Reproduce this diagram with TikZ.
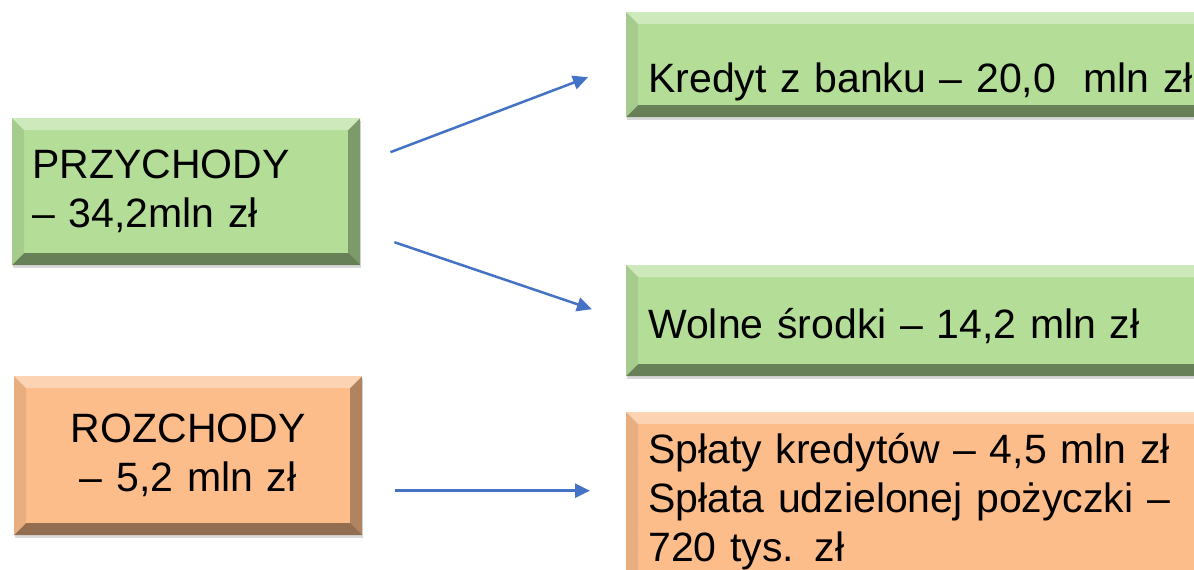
\documentclass[tikz,border=0pt]{standalone}
\usepackage{fontspec}
\setmainfont{Liberation Sans}
\usetikzlibrary{arrows.meta,shadows}
\definecolor{boxgreen}{RGB}{180,222,152}
\definecolor{boxorange}{RGB}{253,189,139}
\definecolor{arrowblue}{RGB}{68,114,196}
\newcommand\panelfont{\fontsize{41}{49}\selectfont}
\begin{document}
\begin{tikzpicture}[x=1pt, y=-1pt,
    bevel/.style ={path picture={
      \coordinate (nw) at (path picture bounding box.north west);
      \coordinate (ne) at (path picture bounding box.north east);
      \coordinate (sw) at (path picture bounding box.south west);
      \coordinate (se) at (path picture bounding box.south east);
      \fill[white, opacity=0.35] (nw) -- (ne) -- ([xshift=-12pt,yshift=-12pt]ne) -- ([xshift=12pt,yshift=-12pt]nw) -- cycle;
      \fill[black, opacity=0.08] (nw) -- ([xshift=12pt,yshift=-12pt]nw) -- ([xshift=12pt,yshift=12pt]sw) -- (sw) -- cycle;
      \fill[black, opacity=0.3] (ne) -- (se) -- ([xshift=-12pt,yshift=12pt]se) -- ([xshift=-12pt,yshift=-12pt]ne) -- cycle;
      \fill[black, opacity=0.42] (sw) -- (se) -- ([xshift=-12pt,yshift=12pt]se) -- ([xshift=12pt,yshift=12pt]sw) -- cycle;}},
    panel/.style ={rectangle, bevel, anchor=north west, inner ysep=0pt, font=\panelfont,
      drop shadow={shadow xshift=1pt, shadow yshift=-3pt, opacity=0.3}},
    leftpanel/.style ={panel, text width=308pt, inner xsep=20pt, minimum width=348pt},
    rightpanel/.style ={panel, text width=556pt, inner xsep=22pt, minimum width=600pt, align=left},
    flow/.style ={draw=arrowblue, line width=2.5pt, -{Triangle[length=15pt,width=14pt]}}]
   \useasboundingbox (0,0) rectangle (1194,570);
   \node[leftpanel, fill=boxgreen, align=left, minimum height=147pt] (przychody) at (12,118) {PRZYCHODY\\– 34,2mln zł};
   \node[leftpanel, fill=boxorange, align=center, minimum height=159pt] (rozchody) at (14,376) {ROZCHODY\\– 5,2 mln zł};
   \node[rightpanel, fill=boxgreen, minimum height=105pt, text height=65pt, text depth=10pt] (kredyt) at (626,12) {Kredyt z banku – 20,0\ \ mln zł};
   \node[rightpanel, fill=boxgreen, minimum height=111pt, text height=45pt, text depth=10pt] (wolne) at (626,265) {Wolne środki – 14,2 mln zł};
   \node[rightpanel, fill=boxorange, minimum height=178pt] (splaty) at (626,412) {Spłaty kredytów – 4,5 mln zł\\Spłata udzielonej pożyczki –\\720 tys. zł};
   \coordinate (rozchody out) at ([xshift=33pt,yshift=-35pt]rozchody.east);
   \coordinate (splaty in) at ([xshift=-36pt]rozchody out -| splaty.west);
   \draw[flow] ([xshift=30pt,yshift=39.5pt]przychody.east) to ([xshift=-38pt,yshift=-12.5pt]kredyt.west);
   \draw[flow] ([xshift=34pt,yshift=-50.5pt]przychody.east) to ([xshift=-34pt,yshift=11.5pt]wolne.west);
   \draw[flow] (rozchody out) to (splaty in);
 \end{tikzpicture}
\end{document}
